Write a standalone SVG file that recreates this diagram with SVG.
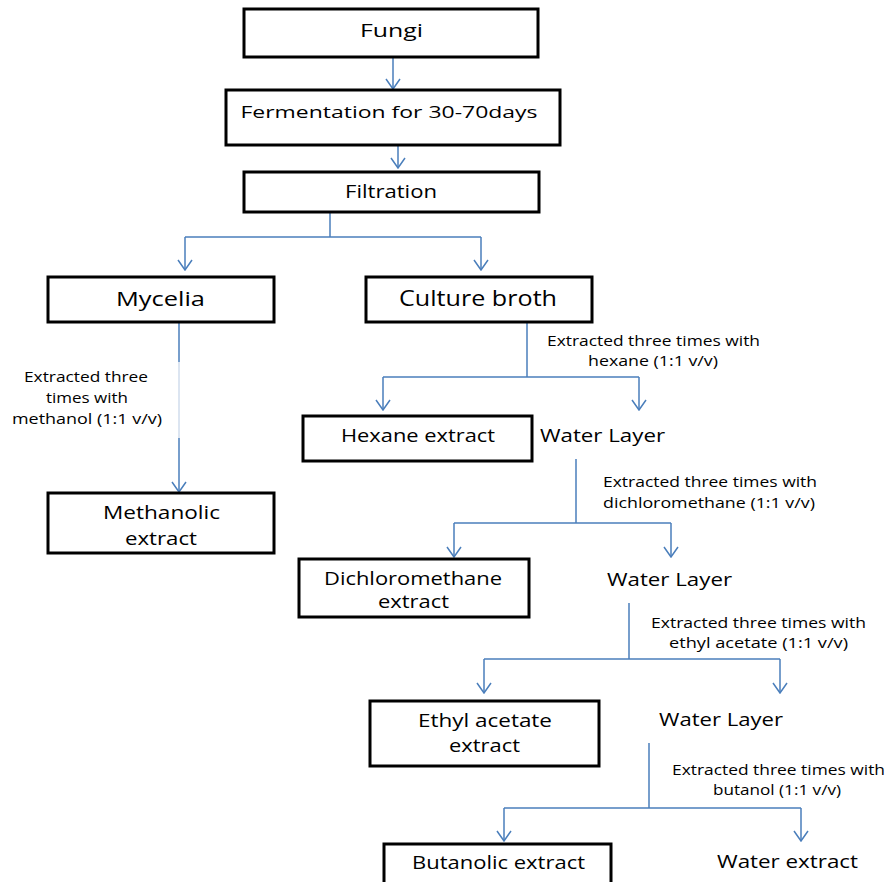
<svg xmlns="http://www.w3.org/2000/svg" width="889" height="882" viewBox="0 0 889 882">
<style>
  .box{fill:#fff;stroke:#000;stroke-width:3}
  .t{font-family:"Open Sans","Liberation Sans",sans-serif;fill:#000;text-anchor:middle}
  .lbl{font-size:14px}
  .c{fill:none;stroke:#4a7ebb;stroke-width:1.5}
  .faint{fill:none;stroke:#b9cbe3;stroke-width:1}
</style>
<defs>
  <marker id="ah" viewBox="-1 -8 12 16" refX="10" refY="0" markerWidth="12" markerHeight="16" markerUnits="userSpaceOnUse" orient="auto">
    <path d="M0,-7 L10,0 L0,7" fill="none" stroke="#4a7ebb" stroke-width="1.5"/>
  </marker>
</defs>
<rect width="889" height="882" fill="#fff"/>

<g id="connectors">
  <line class="c" x1="393" y1="57" x2="393" y2="89" marker-end="url(#ah)"/>
  <line class="c" x1="398" y1="135" x2="398" y2="168" marker-end="url(#ah)"/>
  <polyline class="c" points="330,212 330,237"/>
  <polyline class="c" points="185,237 481,237"/>
  <line class="c" x1="185" y1="237" x2="185" y2="270" marker-end="url(#ah)"/>
  <line class="c" x1="481" y1="237" x2="481" y2="270" marker-end="url(#ah)"/>
  <line class="c" x1="179" y1="322" x2="179" y2="362"/>
  <line class="faint" x1="179" y1="362" x2="179" y2="438"/>
  <line class="c" x1="179" y1="438" x2="179" y2="492" marker-end="url(#ah)"/>
  <polyline class="c" points="527,322 527,377"/>
  <polyline class="c" points="383,377 639,377"/>
  <line class="c" x1="383" y1="377" x2="383" y2="410" marker-end="url(#ah)"/>
  <line class="c" x1="639" y1="377" x2="639" y2="410" marker-end="url(#ah)"/>
  <polyline class="c" points="576,459 576,523"/>
  <polyline class="c" points="454,523 671,523"/>
  <line class="c" x1="454" y1="523" x2="454" y2="557" marker-end="url(#ah)"/>
  <line class="c" x1="671" y1="523" x2="671" y2="557" marker-end="url(#ah)"/>
  <polyline class="c" points="629,603 629,659"/>
  <polyline class="c" points="484,659 780,659"/>
  <line class="c" x1="484" y1="659" x2="484" y2="693" marker-end="url(#ah)"/>
  <line class="c" x1="780" y1="659" x2="780" y2="693" marker-end="url(#ah)"/>
  <polyline class="c" points="649,743 649,808"/>
  <polyline class="c" points="504,808 801,808"/>
  <line class="c" x1="504" y1="808" x2="504" y2="841" marker-end="url(#ah)"/>
  <line class="c" x1="801" y1="808" x2="801" y2="841" marker-end="url(#ah)"/>
</g>

<g id="fungi">
  <rect class="box" x="244" y="9" width="294" height="48"/>
  <text class="t" x="391.5" y="36.5" font-size="19" textLength="63" lengthAdjust="spacingAndGlyphs">Fungi</text>
</g>
<g id="fermentation">
  <rect class="box" x="226" y="90" width="334" height="55"/>
  <text class="t" x="389" y="117.5" font-size="17" textLength="297" lengthAdjust="spacingAndGlyphs">Fermentation for 30-70days</text>
</g>
<g id="filtration">
  <rect class="box" x="244" y="172" width="295" height="40"/>
  <text class="t" x="391" y="197.5" font-size="19" textLength="92" lengthAdjust="spacingAndGlyphs">Filtration</text>
</g>
<g id="mycelia">
  <rect class="box" x="48" y="277" width="226" height="45"/>
  <text class="t" x="160.5" y="305.5" font-size="20" textLength="89" lengthAdjust="spacingAndGlyphs">Mycelia</text>
</g>
<g id="methanol-label">
  <text class="t lbl" x="86" y="382" textLength="124" lengthAdjust="spacingAndGlyphs">Extracted three</text>
  <text class="t lbl" x="87" y="403" textLength="82" lengthAdjust="spacingAndGlyphs">times with</text>
  <text class="t lbl" x="87" y="424" textLength="150" lengthAdjust="spacingAndGlyphs">methanol (1:1 v/v)</text>
</g>
<g id="methanolic">
  <rect class="box" x="48" y="493" width="226" height="60"/>
  <text class="t" x="161.5" y="518.5" font-size="19" textLength="117" lengthAdjust="spacingAndGlyphs">Methanolic</text>
  <text class="t" x="161" y="545" font-size="19" textLength="72" lengthAdjust="spacingAndGlyphs">extract</text>
</g>
<g id="culture-broth">
  <rect class="box" x="366" y="277" width="226" height="45"/>
  <text class="t" x="478" y="306" font-size="21" textLength="158" lengthAdjust="spacingAndGlyphs">Culture broth</text>
</g>
<g id="hexane-label">
  <text class="t lbl" x="653.5" y="346" textLength="213" lengthAdjust="spacingAndGlyphs">Extracted three times with</text>
  <text class="t lbl" x="653" y="366" textLength="130" lengthAdjust="spacingAndGlyphs">hexane (1:1 v/v)</text>
</g>
<g id="hexane">
  <rect class="box" x="303" y="416" width="229" height="45"/>
  <text class="t" x="418" y="442" font-size="18" textLength="154" lengthAdjust="spacingAndGlyphs">Hexane extract</text>
</g>
<g id="water-layer-1">
  <text class="t" x="602.5" y="442" font-size="18" textLength="125" lengthAdjust="spacingAndGlyphs">Water Layer</text>
</g>
<g id="dcm-label">
  <text class="t lbl" x="710" y="487" textLength="214" lengthAdjust="spacingAndGlyphs">Extracted three times with</text>
  <text class="t lbl" x="709" y="507.5" textLength="212" lengthAdjust="spacingAndGlyphs">dichloromethane (1:1 v/v)</text>
</g>
<g id="dichloromethane">
  <rect class="box" x="299" y="559" width="230" height="58"/>
  <text class="t" x="413" y="584.5" font-size="18.5" textLength="178" lengthAdjust="spacingAndGlyphs">Dichloromethane</text>
  <text class="t" x="413.5" y="607.5" font-size="18.5" textLength="71" lengthAdjust="spacingAndGlyphs">extract</text>
</g>
<g id="water-layer-2">
  <text class="t" x="669.5" y="586" font-size="18.5" textLength="125" lengthAdjust="spacingAndGlyphs">Water Layer</text>
</g>
<g id="ea-label">
  <text class="t lbl" x="758.5" y="627.5" textLength="215" lengthAdjust="spacingAndGlyphs">Extracted three times with</text>
  <text class="t lbl" x="758.5" y="648" textLength="179" lengthAdjust="spacingAndGlyphs">ethyl acetate (1:1 v/v)</text>
</g>
<g id="ethyl-acetate">
  <rect class="box" x="370" y="701" width="229" height="65"/>
  <text class="t" x="485" y="726.5" font-size="19" textLength="134" lengthAdjust="spacingAndGlyphs">Ethyl acetate</text>
  <text class="t" x="484.5" y="751.5" font-size="19" textLength="71" lengthAdjust="spacingAndGlyphs">extract</text>
</g>
<g id="water-layer-3">
  <text class="t" x="721" y="725.5" font-size="18.5" textLength="124" lengthAdjust="spacingAndGlyphs">Water Layer</text>
</g>
<g id="bu-label">
  <text class="t lbl" x="778.5" y="774.5" textLength="213" lengthAdjust="spacingAndGlyphs">Extracted three times with</text>
  <text class="t lbl" x="777" y="795" textLength="128" lengthAdjust="spacingAndGlyphs">butanol (1:1 v/v)</text>
</g>
<g id="butanolic">
  <rect class="box" x="384" y="844" width="227" height="60"/>
  <text class="t" x="498.5" y="868.5" font-size="18.5" textLength="173" lengthAdjust="spacingAndGlyphs">Butanolic extract</text>
</g>
<g id="water-extract">
  <text class="t" x="787.5" y="867.5" font-size="19" textLength="141" lengthAdjust="spacingAndGlyphs">Water extract</text>
</g>
</svg>
